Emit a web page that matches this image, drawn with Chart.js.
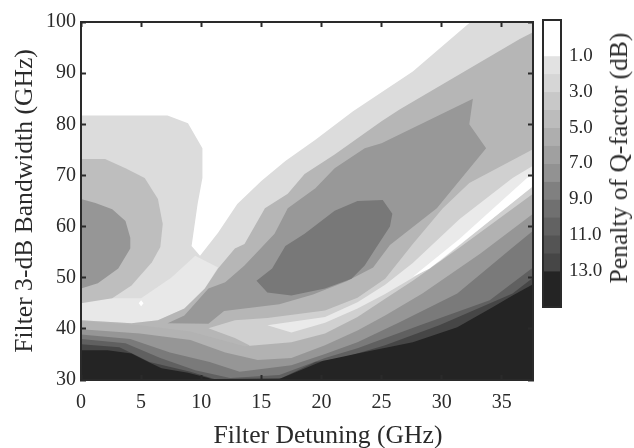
<!DOCTYPE html>
<html>
<head>
<meta charset="utf-8">
<title>Penalty of Q-factor</title>
<script src="https://cdn.jsdelivr.net/npm/chart.js@4"></script>
<style>
body { margin: 0; background: #fff; }
canvas { position: absolute; left: 0; top: 0; }
.axisTitle {
    position: absolute; white-space: nowrap;
    font: 25.6px "Liberation Serif", serif; color: #2a2a2a;
}
#barTitle { left: 619px; top: 158px; transform: translate(-50%, -50%) rotate(-90deg); }
#xTitle { left: 328px; top: 435px; transform: translate(-50%, -50%); }
</style>
</head>
<body>
<canvas id="contourChart" width="634" height="448"></canvas>
<canvas id="barChart" width="634" height="448"></canvas>
<div id="barTitle" class="axisTitle">Penalty of Q-factor (dB)</div>
<div id="xTitle" class="axisTitle">Filter Detuning (GHz)</div>
<script>
// Axis ranges and ticks
const detuningMin = 0, detuningMax = 37.6, detuningStep = 5;
const bandwidthMin = 30, bandwidthMax = 100, bandwidthStep = 10;

// Contour outlines, [detuning GHz, bandwidth GHz]
const regionOuter = [[0,81.7],[7.2,81.7],[8.9,80.2],[10.1,75.3],[10.1,69.5],[9.7,64.4],[9.2,56.2],[9.9,54.3],[11.4,58.8],[13,64.4],[15,68.9],[17,72.8],[19.5,77],[22.6,82.5],[27.6,90.3],[32.4,100],[37.6,100],[37.6,30],[0,30]];
const valleyLeft = [[0,46],[5,46],[7.5,50],[9.5,54.3],[11.4,52],[10.3,47.9],[8.6,44],[6.4,41.7],[4.2,41.1],[0,41.7]];
const leftBlobMid = [[0,73.2],[2,73.2],[3.7,71.4],[5.3,69.5],[6.4,65.4],[6.8,60.5],[6.6,56],[5.9,53],[4.2,48.5],[2.6,46],[0,45]];
const leftBlobCore = [[0,65.4],[1.2,64.6],[2.6,63.4],[3.7,61.1],[4.1,57.8],[4.1,55.7],[3.1,51.8],[1.4,48.9],[0,47.9]];
const hillOuter = [[37.6,98],[36.5,96.7],[26.5,82.9],[25,80.6],[21.1,74.1],[18.6,70.3],[17.2,66.4],[15.3,63.6],[13.6,56.6],[12.8,55.7],[11.4,51.8],[10.3,47.9],[8.6,44],[6.4,41.7],[4.2,41.1],[0,41.7],[0,30],[37.6,30]];
const hillMid = [[7.2,41.1],[8.6,42.6],[10.6,47.9],[12,49.1],[13.6,52.4],[16.1,58.6],[17.2,63.6],[19.5,67.5],[21.1,71.4],[23.6,75.3],[25,76.3],[32.6,85],[32.3,80],[33.7,75.3],[29.6,63.6],[25.7,56.4],[24.3,52],[22.1,49.3],[19.3,46.7],[16.5,44.8],[11.9,43.5],[10.6,41]];
const hillCore = [[14.6,49.4],[15.9,51.8],[17,56.2],[18.6,58.6],[21.1,63.1],[23,65],[25.1,65.2],[25.9,62.5],[25.7,60],[24.4,55.3],[23.6,52.4],[22.5,49.8],[20.3,47.9],[17.5,46.5],[15.5,47.1]];
const valleyOuter = [[10.6,40.1],[12.8,41.7],[15.5,42.1],[20.3,43.6],[23,46.1],[25.3,49.8],[27.6,56.6],[30.1,63.6],[32.3,68.5],[37.6,75.1],[37.6,30],[14,30],[14,36.8],[12.8,38.2]];
const valleyInner = [[15.5,40.7],[20.3,42.3],[23,45.2],[25.3,48.6],[27.6,52.9],[31.5,61.5],[35.9,69.5],[37.6,71.9],[37.6,68],[33.2,59.6],[29.9,53.3],[27.6,50],[25.3,46.8],[23,44],[20.3,41.2],[17.5,39.3]];
const valleyLine = [[27.6,50.2],[31.5,57.6],[37.1,69.5],[37.5,69.9],[37.5,67.7],[33.2,59.6],[29,51.8]];
const whiteDot = [[4.8,45],[5,45.6],[5.2,45],[5,44.4]];
const lowBand1 = [[0,41.5],[4.9,40.7],[9.1,39.5],[13.6,36.6],[17.5,37.4],[20.3,39.1],[23,42.3],[25.3,45.9],[27.6,49.4],[31.5,55.9],[37.6,66.4],[37.6,30],[0,30]];
const lowBand2 = [[0,39.9],[4.9,39.1],[9.1,37.8],[12,35.4],[14.7,33.9],[17.5,34.3],[20.3,36.8],[23,39.7],[25.3,42.6],[28.4,46.9],[33.2,54.7],[37.6,62.5],[37.6,30],[0,30]];
const lowBand3 = [[0,38.9],[4.1,38],[7.4,35.4],[10.7,33.5],[13.2,31.6],[17.5,32.9],[20.3,35.1],[23,37.4],[26.5,41.3],[31.3,46.9],[35.9,55.9],[37.6,59.2],[37.6,30],[0,30]];
const lowBand4 = [[0,38],[3.7,37.2],[6.6,34.3],[9.5,31.9],[12.4,30.4],[16.5,31],[20.3,34.3],[23,36.2],[28.2,40.7],[34,45.6],[37.6,52],[37.6,30],[0,30]];
const lowBand5 = [[0,37],[3.2,36.4],[5.7,33.5],[9.1,31.6],[11.1,30.2],[16.7,30.4],[19.5,33.5],[21.7,34.3],[25.3,36.8],[29.8,40.7],[35.9,46.9],[37.6,50],[37.6,30],[0,30]];
const blackLeft = [[0,30],[0,35.8],[2.2,35.8],[4.2,35.2],[5.6,33.5],[6.7,32.3],[8.9,31.4],[10.6,30.4],[11.1,30]];
const blackRight = [[15.7,30],[16.5,30.2],[20.1,33.7],[23.4,35.4],[27.6,37.4],[31.3,40.3],[34.2,44.2],[35.9,46.5],[37.6,48.7],[37.6,30]];

// Colour bar: band edges in dB, one grey per band
const barEdges = [-1, 1, 2, 3, 4, 5, 6, 7, 8, 9, 10, 11, 12, 13, 15];
const barGreys = [255, 226, 214, 200, 188, 174, 160, 146, 128, 112, 98, 84, 70, 36];
const barTicks = [1, 3, 5, 7, 9, 11, 13];

const fontFamily = '"Liberation Serif", serif';
const inkColor = '#2a2a2a';
const grey = v => `rgb(${v},${v},${v})`;

// Drawn bottom to top
const layers = [
    [regionOuter, 220], [valleyLeft, 232], [leftBlobMid, 190], [leftBlobCore, 150],
    [hillOuter, 182], [hillMid, 152], [hillCore, 120],
    [valleyOuter, 208], [valleyInner, 234], [valleyLine, 255], [whiteDot, 255],
    [lowBand1, 178], [lowBand2, 150], [lowBand3, 122], [lowBand4, 96], [lowBand5, 70],
    [blackLeft, 36], [blackRight, 36]
];

// Chart.js paints the first dataset last, so reverse the list
const contourSets = layers.map(([outline, shade]) => ({
    data: outline.map(([x, y]) => ({ x, y })),
    showLine: true,
    fill: 'shape',
    backgroundColor: grey(shade),
    borderWidth: 0,
    pointRadius: 0
})).reverse();

function frameAxis(position, min, max, step) {
    return {
        type: 'linear', position, min, max, display: true,
        border: { display: true, color: inkColor, width: 2, z: 2 },
        grid: { drawOnChartArea: false, tickLength: -5, tickWidth: 2, tickColor: inkColor, z: 2 },
        ticks: { display: false, stepSize: step, includeBounds: false },
        afterFit(scale) {
            if (scale.isHorizontal()) scale.height = 0; else scale.width = 0;
        }
    };
}

new Chart(document.getElementById('contourChart'), {
    type: 'scatter',
    data: { datasets: contourSets },
    options: {
        responsive: false,
        animation: false,
        layout: { padding: { top: 20, right: 101 } },
        plugins: { legend: { display: false }, tooltip: { enabled: false } },
        scales: {
            x: {
                type: 'linear', min: detuningMin, max: detuningMax,
                border: { display: true, color: inkColor, width: 2, z: 2 },
                grid: { drawOnChartArea: false, tickLength: -5, tickWidth: 2, tickColor: inkColor, z: 2 },
                ticks: {
                    stepSize: detuningStep, includeBounds: false, maxRotation: 0, padding: 16,
                    color: inkColor, font: { family: fontFamily, size: 20 }
                },
                afterFit(scale) { scale.height = 68; }
            },
            y: {
                type: 'linear', min: bandwidthMin, max: bandwidthMax,
                border: { display: true, color: inkColor, width: 2, z: 2 },
                grid: { drawOnChartArea: false, tickLength: -5, tickWidth: 2, tickColor: inkColor, z: 2 },
                ticks: {
                    stepSize: bandwidthStep, padding: 10,
                    color: inkColor, font: { family: fontFamily, size: 20 }
                },
                title: {
                    display: true, text: 'Filter 3-dB Bandwidth (GHz)', color: inkColor,
                    padding: { top: 10, bottom: 0 }, font: { family: fontFamily, size: 25.6 }
                },
                afterFit(scale) { scale.width = 81; }
            },
            xTop: frameAxis('top', detuningMin, detuningMax, detuningStep),
            yRight: frameAxis('right', bandwidthMin, bandwidthMax, bandwidthStep)
        }
    }
});

// Colour bar as floating bars on its own chart
const barSets = barGreys.map((shade, i) => ({
    data: [[barEdges[i], barEdges[i + 1]]],
    backgroundColor: grey(shade),
    grouped: false,
    barPercentage: 1,
    categoryPercentage: 1
}));

new Chart(document.getElementById('barChart'), {
    type: 'bar',
    data: { labels: [''], datasets: barSets },
    options: {
        responsive: false,
        animation: false,
        layout: { padding: { left: 543, top: 20, bottom: 141, right: 0 } },
        plugins: { legend: { display: false }, tooltip: { enabled: false } },
        scales: {
            x: {
                display: true,
                grid: { display: false },
                border: { display: true, color: inkColor, width: 2, z: 2 },
                ticks: { display: false },
                afterFit(scale) { scale.height = 0; }
            },
            xFrame: {
                position: 'top', display: true,
                grid: { display: false },
                border: { display: true, color: inkColor, width: 2, z: 2 },
                ticks: { display: false },
                afterFit(scale) { scale.height = 0; }
            },
            y: {
                position: 'right', min: -1, max: 15, reverse: true,
                grid: { display: false },
                border: { display: true, color: inkColor, width: 2, z: 2 },
                afterBuildTicks(scale) { scale.ticks = barTicks.map(value => ({ value })); },
                ticks: {
                    padding: 0, color: inkColor, font: { family: fontFamily, size: 19 },
                    callback: value => value.toFixed(1)
                },
                afterFit(scale) { scale.width = 73; }
            },
            yFrame: {
                position: 'left', display: true, min: -1, max: 15,
                grid: { display: false },
                border: { display: true, color: inkColor, width: 2, z: 2 },
                ticks: { display: false },
                afterFit(scale) { scale.width = 0; }
            }
        }
    }
});
</script>
</body>
</html>
